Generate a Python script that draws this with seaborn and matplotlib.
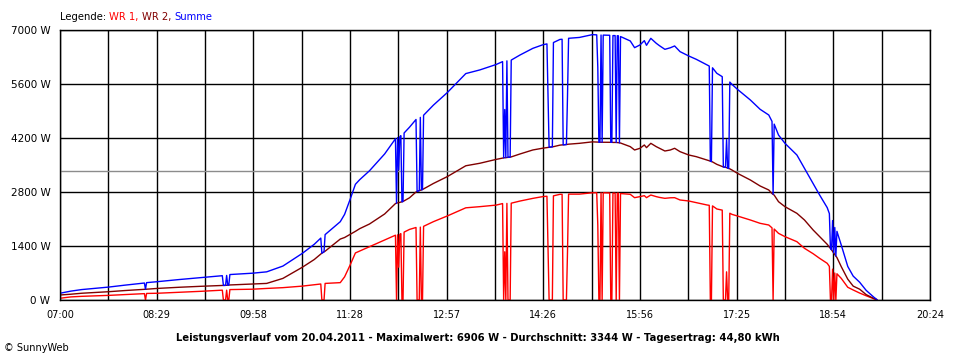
import pandas as pd
import seaborn as sns
import matplotlib.pyplot as plt

# Leistungsverlauf 20.04.2011, WR 1 / WR 2 (W)
zeit = ["07:00", "07:10", "07:20", "07:30", "07:45", "08:00", "08:18", "08:19", "08:20", "08:30",
        "08:50", "09:10", "09:30", "09:31", "09:33", "09:34", "09:35", "09:36", "09:37", "09:58",
        "10:11", "10:26", "10:44", "10:55", "11:01", "11:02", "11:04", "11:05", "11:19", "11:23",
        "11:28", "11:33", "11:37", "11:46", "12:00", "12:10", "12:11", "12:12", "12:13", "12:14",
        "12:15", "12:16", "12:17", "12:18", "12:23", "12:29", "12:30", "12:32", "12:33", "12:34",
        "12:35", "12:36", "12:45", "12:58", "13:15", "13:28", "13:43", "13:49", "13:50", "13:51",
        "13:52", "13:53", "13:54", "13:56", "13:57", "14:05", "14:17", "14:26", "14:30", "14:31",
        "14:32", "14:35", "14:36", "14:42", "14:44", "14:45", "14:48", "14:49", "14:50", "15:00",
        "15:12", "15:16", "15:17", "15:18", "15:19", "15:20", "15:21", "15:22", "15:28", "15:29",
        "15:30", "15:31", "15:33", "15:34", "15:35", "15:36", "15:37", "15:38", "15:47", "15:51",
        "15:56", "16:00", "16:02", "16:06", "16:11", "16:14", "16:19", "16:24", "16:28", "16:33",
        "16:41", "16:48", "16:58", "17:00", "17:01", "17:02", "17:03", "17:07", "17:12", "17:13",
        "17:15", "17:16", "17:17", "17:18", "17:19", "17:21", "17:26", "17:38", "17:47", "17:55",
        "17:58", "17:59", "18:00", "18:04", "18:10", "18:21", "18:28", "18:36", "18:42", "18:49",
        "18:51", "18:52", "18:53", "18:54", "18:55", "18:56", "18:57", "18:58", "19:02", "19:08",
        "19:13", "19:19", "19:25", "19:32", "19:35"]

wr1 = [45, 80, 95, 105, 120, 140, 165, 0, 170, 175,
       200, 225, 255, 0, 0, 255, 0, 0, 270, 280,
       300, 320, 360, 395, 415, 0, 0, 430, 450, 600,
       900, 1220, 1270, 1380, 1556, 1680, 0, 1690, 850, 1700,
       1720, 0, 0, 1760, 1830, 1880, 0, 0, 1890, 0,
       0, 1910, 2030, 2180, 2390, 2420, 2460, 2500, 0, 1250,
       0, 2505, 0, 0, 2510, 2565, 2635, 2680, 2690, 1340,
       0, 0, 2700, 2740, 2740, 0, 0, 1250, 2745, 2745,
       2780, 2780, 1940, 0, 0, 2780, 0, 2780, 2775, 0,
       0, 2770, 2770, 0, 2770, 2770, 0, 2760, 2740, 2653,
       2680, 2705, 2653, 2722, 2680, 2660, 2636, 2650, 2653, 2593,
       2567, 2524, 2463, 2455, 0, 0, 2440, 2360, 2330, 0,
       0, 730, 0, 0, 2250, 2220, 2178, 2074, 1988, 1944,
       1870, 0, 1840, 1728, 1642, 1512, 1340, 1200, 1080, 951,
       870, 0, 0, 800, 0, 700, 0, 680, 560, 330,
       260, 180, 110, 35, 0]

wr2 = [130, 150, 175, 190, 215, 245, 275, 278, 280, 300,
       330, 355, 375, 378, 380, 382, 384, 386, 390, 415,
       430, 560, 850, 1050, 1190, 1215, 1250, 1265, 1580, 1620,
       1700, 1780, 1850, 1970, 2230, 2500, 2510, 2520, 2525, 2530,
       2540, 2545, 2555, 2570, 2650, 2800, 2815, 2835, 2845, 2855,
       2865, 2880, 3020, 3200, 3480, 3545, 3645, 3680, 3685, 3688,
       3690, 3695, 3698, 3705, 3710, 3785, 3890, 3935, 3950, 3955,
       3960, 3970, 3975, 4015, 4020, 4022, 4030, 4035, 4040, 4062,
       4100, 4094, 4092, 4090, 4090, 4090, 4090, 4088, 4088, 4088,
       4088, 4085, 4085, 4085, 4082, 4080, 4075, 4070, 3976, 3889,
       3933, 4019, 3950, 4062, 3976, 3933, 3863, 3889, 3933, 3846,
       3760, 3716, 3630, 3610, 3600, 3590, 3580, 3517, 3460, 3450,
       3440, 3430, 3420, 3410, 3400, 3370, 3285, 3111, 2956, 2852,
       2760, 2740, 2720, 2549, 2419, 2247, 2074, 1815, 1642, 1444,
       1370, 1340, 1300, 1260, 1220, 1180, 1140, 1100, 864, 540,
       360, 280, 140, 40, 10]

x_labels = ["07:00", "08:29", "09:58", "11:28", "12:57", "14:26", "15:56", "17:25", "18:54", "20:24"]
y_ticks = [0, 1400, 2800, 4200, 5600, 7000]
durchschnitt = 3344
titel = ("Leistungsverlauf vom 20.04.2011 - Maximalwert: 6906 W - "
         "Durchschnitt: 3344 W - Tagesertrag: 44,80 kWh")

minuten = [int(t[:2]) * 60 + int(t[3:]) for t in zeit]
df = pd.DataFrame({"min": minuten, "WR 1": wr1, "WR 2": wr2})
df["Summe"] = df["WR 1"] + df["WR 2"]
long = df.melt(id_vars="min", var_name="Serie", value_name="W")

sns.set_style("white")
plt.rcParams["font.family"] = ["DejaVu Sans"]
plt.rcParams["text.color"] = "black"
plt.rcParams["xtick.color"] = "black"
plt.rcParams["ytick.color"] = "black"

fig = plt.figure(figsize=(9.6, 3.6), dpi=100)
ax = fig.add_axes([60 / 960, 60 / 360, 870 / 960, 270 / 360])

farben = {"WR 1": "#ff0000", "WR 2": "#800000", "Summe": "#0000ff"}
sns.lineplot(data=long, x="min", y="W", hue="Serie", hue_order=["WR 1", "WR 2", "Summe"],
             palette=farben, estimator=None, sort=False, legend=False, linewidth=1.0, ax=ax)
ax.axhline(durchschnitt, color="#8c8c8c", lw=1.0, zorder=1)

start, ende = 420, 1224
schritt = (ende - start) / (len(x_labels) - 1)
ax.set_xlim(start, ende)
ax.set_ylim(0, 7000)
ax.set_xticks([start + i * schritt for i in range(len(x_labels))])
ax.set_xticks([start + (i + 0.5) * schritt for i in range(len(x_labels) - 1)], minor=True)
ax.set_xticklabels(x_labels, fontsize=7, color="black")
ax.set_yticks(y_ticks)
ax.set_yticklabels([f"{v} W" for v in y_ticks], fontsize=7.5, color="black")
ax.set_xlabel("")
ax.set_ylabel("")
ax.grid(which="both", color="black", lw=1.0, zorder=0)
ax.set_axisbelow(True)
ax.tick_params(which="both", direction="out", length=5, width=1, color="black",
               labelcolor="black", pad=2)
for s in ax.spines.values():
    s.set_color("black")
    s.set_linewidth(1.0)

# legend line at the top, coloured piece by piece
r = fig.canvas.get_renderer()
xpos = 60 / 960
for txt, col in [("Legende: ", "black"), ("WR 1, ", "#ff0000"), ("WR 2, ", "#800000"), ("Summe", "#0000ff")]:
    t = fig.text(xpos, 1 - 17 / 360, txt, color=col, fontsize=7.2, va="center", ha="left")
    bb = t.get_window_extent(renderer=r)
    xpos += bb.width / 960

fig.text(478 / 960, 1 - 338 / 360, titel, fontsize=7.2, weight="bold", color="black",
         ha="center", va="center")
fig.text(4 / 960, 1 - 348 / 360, "\u00a9 SunnyWeb", fontsize=7, color="black", ha="left", va="center")

fig.savefig("out.png", dpi=100)
